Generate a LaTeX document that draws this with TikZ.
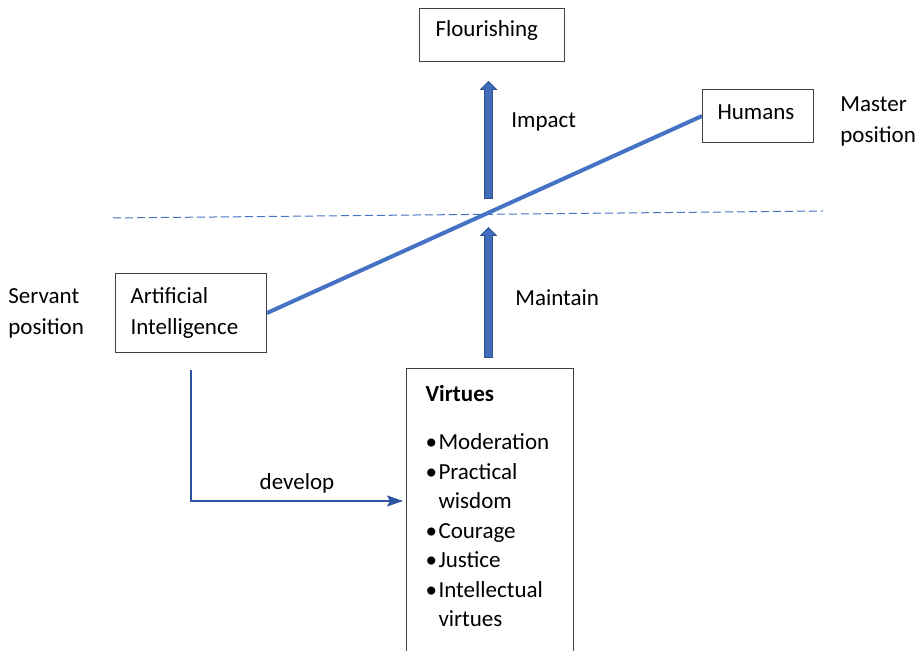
\documentclass[tikz,border=0pt]{standalone}
\usepackage{fontspec}
\setmainfont{Carlito}
\usetikzlibrary{arrows.meta, positioning, shapes.arrows}
\definecolor{accblue}{RGB}{68,114,196}
\definecolor{accdark}{RGB}{47,82,143}
\definecolor{devblue}{RGB}{46,84,161}
\definecolor{boxgray}{RGB}{64,64,64}

\newcommand\vbul{\makebox[6.5pt][l]{\textbullet}}
\newcommand\vind{\hspace*{6.5pt}}

\tikzset{
    box/.style={rectangle, draw=boxgray, line width=0.5pt, align=left,
        anchor=north west, inner xsep=7.5pt, inner ysep=0pt},
    lbl/.style={align=left, anchor=west, inner sep=0pt},
    blockarrow/.style={single arrow, draw=accdark, fill=accblue!80!accdark,
        line width=0.4pt, minimum width=7.5pt, single arrow head extend=2pt,
        inner xsep=0pt, inner ysep=1.75pt, rotate=90},
    link/.style={draw=accblue, line width=2pt},
    axisline/.style={draw=accblue, line width=0.5pt, dash pattern=on 4pt off 2pt},
    devarrow/.style={draw=devblue, line width=1pt, -{Stealth[length=8pt, width=5.5pt, inset=1.5pt]}}
}

\begin{document}
\begin{tikzpicture}[x=0.5pt, y=-0.5pt, font=\fontsize{11.5}{15.5}\selectfont]
    \clip (0,0) rectangle (921,651);

    % boxes
    \node[box, inner xsep=8pt, text width=56.5pt, minimum height=26.5pt] (flour) at (419,8) {Flourishing\rule[-6.5pt]{0pt}{0pt}};
    \node[box, text width=40.5pt, minimum height=26.5pt] (humans) at (702,89) {Humans\rule[-4pt]{0pt}{0pt}};
    \node[box, text width=60.5pt, minimum height=39.5pt] (ai) at (115,273) {Artificial\\Intelligence};
    \node[box, inner xsep=9.5pt, inner ysep=8.5pt, text width=64.5pt,
        font=\fontsize{11.5}{14.75}\selectfont] (virt) at (406,368)
        {\textbf{Virtues}\\[9.25pt]
         \vbul Moderation\\
         \vbul Practical\\
         \vind wisdom\\
         \vbul Courage\\
         \vbul Justice\\
         \vbul Intellectual\\
         \vind virtues\rule[-20pt]{0pt}{0pt}};

    % side labels
    \node[lbl] (master) at (840,121) {Master\\position};
    \node[lbl] (servant) at (8,313) {Servant\\position};
    \node[lbl] (impact) at (511,122) {Impact};
    \node[lbl] (maintain) at (515,298) {Maintain};

    % dashed horizon
    \coordinate (dl) at (113,218);
    \coordinate (dr) at (823,211);
    \draw[axisline] (dl) -- (dr);

    % block arrows
    \node[blockarrow, minimum height=58.5pt, anchor=tip] (uparrow) at ([xshift=-1.75pt, yshift=-9.5pt]flour.south) {};
    \node[blockarrow, minimum height=65pt, anchor=tail] (lowarrow) at ([xshift=-0.75pt, yshift=5pt]virt.north) {};

    % master/servant line
    \draw[link] (ai.east) -- (humans.west);

    % develop
    \draw[devarrow] ([yshift=-8.5pt]ai.south) |- ([xshift=-1.5pt, yshift=-66.5pt]virt.north west)
        node[pos=0.75, above] (devlbl) {develop};
\end{tikzpicture}
\end{document}
